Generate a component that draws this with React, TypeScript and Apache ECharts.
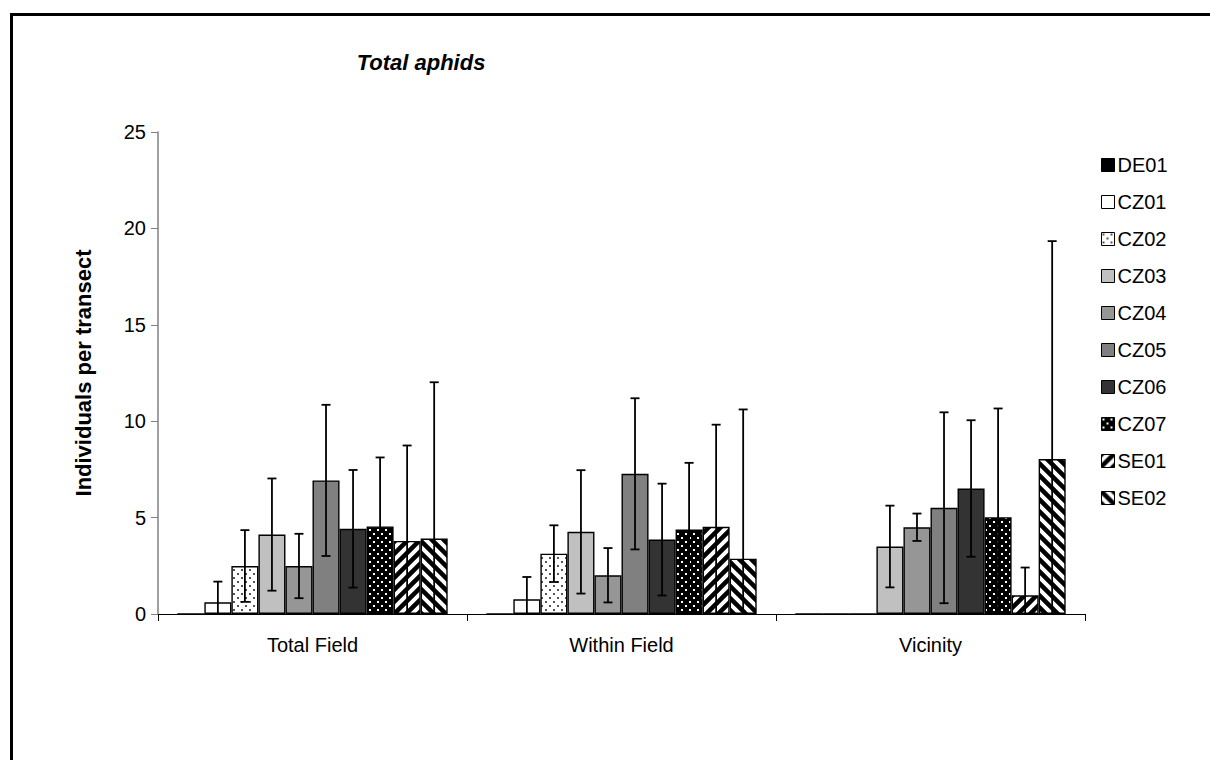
import React, { useEffect, useRef } from 'react';
import * as echarts from 'echarts';

const categories = ['Total Field', 'Within Field', 'Vicinity'];
const seriesNames = ['DE01', 'CZ01', 'CZ02', 'CZ03', 'CZ04', 'CZ05', 'CZ06', 'CZ07', 'SE01', 'SE02'];

// mean individuals per transect: [Total Field, Within Field, Vicinity]
const de01 = [0, 0, 0];
const cz01 = [0.61, 0.76, 0];
const cz02 = [2.49, 3.13, 0];
const cz03 = [4.12, 4.26, 3.5];
const cz04 = [2.49, 2.01, 4.5];
const cz05 = [6.93, 7.27, 5.51];
const cz06 = [4.42, 3.86, 6.51];
const cz07 = [4.54, 4.38, 5.02];
const se01 = [3.79, 4.52, 0.97];
const se02 = [3.91, 2.87, 8.04];

// standard deviations (error bars)
const de01Sd = [0, 0, 0];
const cz01Sd = [1.07, 1.16, 0];
const cz02Sd = [1.86, 1.47, 0];
const cz03Sd = [2.91, 3.2, 2.12];
const cz04Sd = [1.67, 1.41, 0.71];
const cz05Sd = [3.92, 3.92, 4.95];
const cz06Sd = [3.05, 2.9, 3.54];
const cz07Sd = [3.58, 3.46, 5.64];
const se01Sd = [4.95, 5.3, 1.44];
const se02Sd = [8.11, 7.74, 11.3];

const yMin = 0;
const yMax = 25;
const yInterval = 5;

const meanValues = [de01, cz01, cz02, cz03, cz04, cz05, cz06, cz07, se01, se02];
const sdValues = [de01Sd, cz01Sd, cz02Sd, cz03Sd, cz04Sd, cz05Sd, cz06Sd, cz07Sd, se01Sd, se02Sd];

const FONT = "'Liberation Sans', Arial, sans-serif";
const GAP = 0.125;

function tile(size: number, draw: (ctx: CanvasRenderingContext2D) => void) {
  const c = document.createElement('canvas');
  c.width = size;
  c.height = size;
  const ctx = c.getContext('2d')!;
  draw(ctx);
  return { image: c, repeat: 'repeat', imageWidth: size, imageHeight: size };
}

function dots(bg: string, fg: string) {
  return tile(8, (ctx) => {
    ctx.fillStyle = bg;
    ctx.fillRect(0, 0, 8, 8);
    ctx.fillStyle = fg;
    ctx.fillRect(1, 1, 2, 2);
    ctx.fillRect(5, 5, 2, 2);
  });
}

function stripes(dir: 1 | -1) {
  const s = 12;
  return tile(s, (ctx) => {
    ctx.fillStyle = '#fff';
    ctx.fillRect(0, 0, s, s);
    ctx.strokeStyle = '#000';
    ctx.lineWidth = 4.5;
    ctx.beginPath();
    for (let k = -1; k <= 1; k++) {
      if (dir === 1) {
        ctx.moveTo(k * s - 2, s + 2);
        ctx.lineTo(k * s + s + 2, -2);
      } else {
        ctx.moveTo(k * s - 2, -2);
        ctx.lineTo(k * s + s + 2, s + 2);
      }
    }
    ctx.stroke();
  });
}

export default function App() {
  const ref = useRef<HTMLDivElement>(null);
  useEffect(() => {
    if (!ref.current) return;
    const chart = echarts.init(ref.current, undefined, { renderer: 'svg' });

    const fills: any[] = [
      '#000000',
      '#ffffff',
      dots('#ffffff', '#555555'),
      '#c0c0c0',
      '#969696',
      '#808080',
      '#333333',
      dots('#000000', '#ffffff'),
      stripes(1),
      stripes(-1),
    ];

    const n = seriesNames.length;
    const barSeries = seriesNames.map((name, i) => ({
      type: 'bar',
      name,
      data: meanValues[i],
      barGap: '0%',
      barCategoryGap: `${GAP * 100}%`,
      itemStyle: { color: fills[i], borderColor: '#000', borderWidth: 1.4 },
    }));

    const errData: number[][] = [];
    categories.forEach((_, c) => {
      seriesNames.forEach((__, s) => {
        errData.push([c, s, meanValues[s][c], sdValues[s][c]]);
      });
    });

    const errSeries = {
      type: 'custom',
      name: 'err',
      z: 10,
      encode: { x: 0, y: 2 },
      data: errData,
      renderItem: (params: any, api: any) => {
        const c = api.value(0);
        const s = api.value(1);
        const mean = api.value(2);
        const sd = api.value(3);
        if (!(sd > 0)) return null;
        const band = api.size([1, 0])[0];
        const bw = (band * (1 - GAP)) / n;
        const x = api.coord([c, 0])[0] + (s - (n - 1) / 2) * bw;
        const yTop = api.coord([c, mean + sd])[1];
        const lo = Math.max(0, mean - sd);
        const yBot = api.coord([c, lo])[1];
        const st = { stroke: '#000', lineWidth: 1.8 };
        const half = 4.5;
        const children: any[] = [
          { type: 'line', shape: { x1: x, y1: yTop, x2: x, y2: yBot }, style: st },
          { type: 'line', shape: { x1: x - half, y1: yTop, x2: x + half, y2: yTop }, style: st },
        ];
        if (mean - sd > 0) {
          children.push({ type: 'line', shape: { x1: x - half, y1: yBot, x2: x + half, y2: yBot }, style: st });
        }
        return { type: 'group', children };
      },
    };

    chart.setOption({
      animation: false,
      backgroundColor: '#ffffff',
      title: {
        text: 'Total aphids',
        left: 416,
        top: 46,
        textAlign: 'center',
        textStyle: { fontFamily: FONT, fontSize: 22, fontWeight: 'bold', fontStyle: 'italic', color: '#000' },
      },
      graphic: [
        {
          type: 'rect',
          shape: { x: 11.5, y: 14.5, width: 1400, height: 1000 },
          style: { fill: 'none', stroke: '#000', lineWidth: 3 },
          silent: true,
        },
      ],
      legend: {
        orient: 'vertical',
        left: 1096,
        top: 149,
        data: seriesNames,
        icon: 'rect',
        itemWidth: 13,
        itemHeight: 13,
        itemGap: 15,
        selectedMode: false,
        itemStyle: { borderColor: '#000', borderWidth: 1 },
        textStyle: { fontFamily: FONT, fontSize: 20, color: '#000', lineHeight: 22, padding: [0, 0, 0, -2] },
      },
      grid: { left: 158, right: 125, top: 132, bottom: 146 },
      xAxis: {
        type: 'category',
        data: categories,
        axisLine: { lineStyle: { color: '#000', width: 1 } },
        axisTick: { show: true, length: 7, alignWithLabel: false, lineStyle: { color: '#000' } },
        axisLabel: { fontFamily: FONT, fontSize: 20, color: '#000', margin: 21 },
        splitLine: { show: false },
      },
      yAxis: {
        type: 'value',
        min: yMin,
        max: yMax,
        interval: yInterval,
        name: 'Individuals per transect',
        nameLocation: 'middle',
        nameGap: 64,
        nameTextStyle: { fontFamily: FONT, fontSize: 22, fontWeight: 'bold', color: '#000' },
        axisLine: { show: true, lineStyle: { color: '#808080', width: 1.5 } },
        axisTick: { show: true, length: 7, lineStyle: { color: '#808080' } },
        axisLabel: { fontFamily: FONT, fontSize: 20, color: '#000', margin: 12 },
        splitLine: { show: false },
      },
      series: [...barSeries, errSeries],
    });

    return () => {
      chart.dispose();
    };
  }, []);

  return (
    <div
      ref={ref}
      style={{ position: 'absolute', left: 0, top: 0, width: 1210, height: 760, background: '#fff' }}
    />
  );
}
